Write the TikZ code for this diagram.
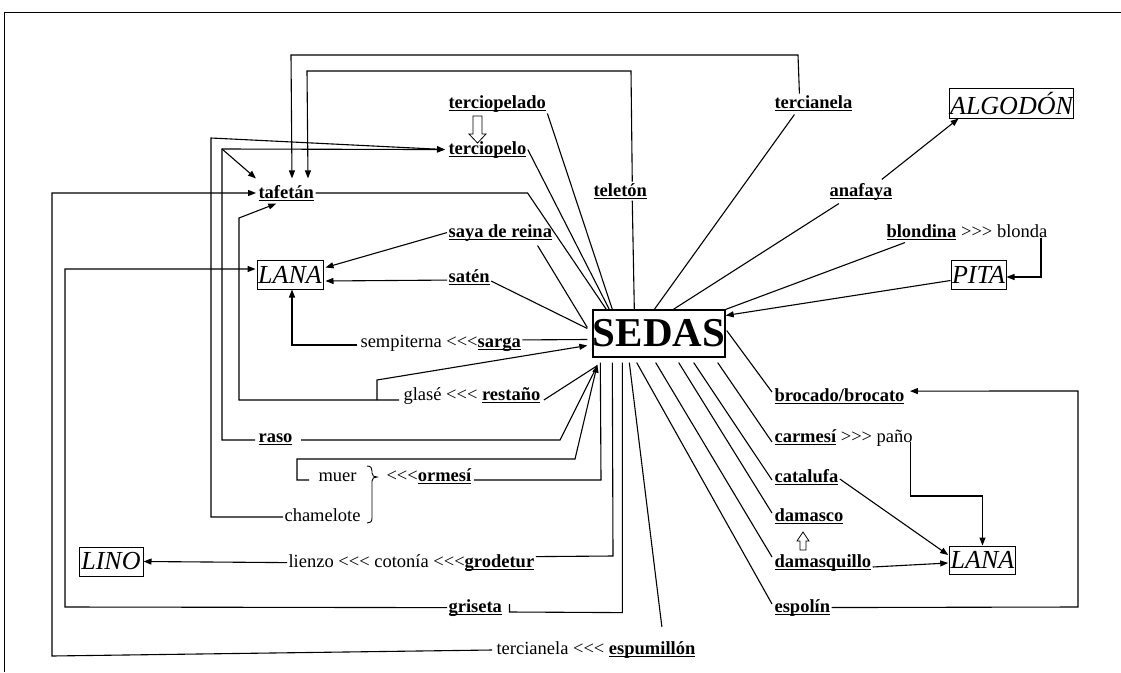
\documentclass[tikz,border=0pt]{standalone}
\usepackage{fontspec}
\setmainfont{Liberation Serif}[Ligatures=TeXOff]
\usetikzlibrary{calc,arrows.meta}
\newcommand\ulb[1]{{\setbox0=\hbox{\bfseries #1}\rlap{\rule[-3pt]{\wd0}{1.2pt}}\box0}}
\newcommand\lt{<\kern0pt<\kern0pt<}
\newcommand\gt{>\kern0pt>\kern0pt>}
\begin{document}
\begin{tikzpicture}[x=1pt,y=-1pt,line width=1.1pt,
  lbl/.style={inner sep=1pt, anchor=base west, font=\fontsize{18.5}{20}\selectfont},
  box/.style={draw, line width=1pt, inner sep=1pt, font=\fontsize{26}{28}\selectfont\itshape},
  arr/.style={-{Triangle[length=8pt,width=6pt]}},
  hollow/.style={line width=0.8pt}]
\useasboundingbox (0,0) rectangle (1121,672);
\draw[line width=1pt] (4,672) -- (4,12) -- (1121,12);

\node[draw, line width=1.2pt, inner sep=0pt, minimum width=132pt, minimum height=47pt,
  font=\fontsize{41}{44}\selectfont\bfseries] (sedas) at (659,333.5) {SEDAS};

\node[lbl] (tpado) at (447,108) {\ulb{terciopelado}};
\node[lbl] (tpelo) at (447,154) {\ulb{terciopelo}};
\node[lbl] (tafetan) at (257,198) {\ulb{tafetán}};
\node[lbl] (saya) at (447,237) {\ulb{saya de reina}};
\node[lbl] (saten) at (447,282) {\ulb{satén}};
\node[lbl] (sarga) at (359,347) {sempiterna \lt\ulb{sarga}};
\node[lbl] (restano) at (402,400) {glasé \lt{} \ulb{restaño}};
\node[lbl] (raso) at (257,442) {\ulb{raso}};
\node[lbl] (muer) at (317,481) {muer};
\node[lbl] (ormesi) at (385,481) {\lt\ulb{ormesí}};
\node[lbl] (chamelote) at (283,521) {chamelote};
\node[lbl] (grodetur) at (287,567) {lienzo \lt{} cotonía \lt\ulb{grodetur}};
\node[lbl] (griseta) at (447,612) {\ulb{griseta}};
\node[lbl] (espum) at (495,654) {tercianela \lt{} \ulb{espumillón}};
\node[lbl] (teleton) at (592,196) {\ulb{teletón}};
\node[lbl] (tercT) at (773,108) {\ulb{tercianela}};
\node[lbl] (anafaya) at (828,196) {\ulb{anafaya}};
\node[lbl] (blondina) at (885,237) {\ulb{blondina} \gt{} blonda};
\node[lbl] (brocado) at (773,401) {\ulb{brocado/brocato}};
\node[lbl] (carmesi) at (773,442) {\ulb{carmesí} \gt{} paño};
\node[lbl] (catalufa) at (773,482) {\ulb{catalufa}};
\node[lbl] (damasco) at (773,521) {\ulb{damasco}};
\node[lbl] (damasq) at (773,567) {\ulb{damasquillo}};
\node[lbl] (espolin) at (773,612) {\ulb{espolín}};

\node[box, minimum width=66pt, minimum height=29pt] (lanaL) at (290,274.5) {LANA};
\node[box, minimum width=64pt, minimum height=29pt] (lino) at (111,561.5) {LINO};
\node[box, minimum width=123pt, minimum height=30pt] (algodon) at (1011.5,103) {ALGODÓN};
\node[box, minimum width=55pt, minimum height=29pt] (pita) at (978.5,274.5) {PITA};
\node[box, minimum width=65pt, minimum height=28pt] (lanaR) at (982.5,560) {LANA};

% hollow arrows
\draw[hollow] (473,116) -- (482,116) -- (482,134) -- (486,134) -- (477.5,143) -- (469,134) -- (473,134) -- cycle;
\draw[hollow] (800,550) -- (806,550) -- (806,541) -- (809,541) -- (803,532) -- (797,541) -- (800,541) -- cycle;

% brace
\draw[line width=0.9pt] (367,466) .. controls (371,466) and (372,468) .. (372,471) -- (372,473)
  .. controls (372,476) and (374,477) .. (377,477) .. controls (374,477) and (372,478) .. (372,481)
  -- (372,518) .. controls (372,522) and (370,523) .. (367,523);

% to SEDAS from upper left
\draw (tpado.south east) -- ($(sedas.north west)+(20,0)$);
\draw (tpelo.east) -- ($(sedas.north west)+(17,0)$);
\draw (tafetan.east) -- ($(tafetan.east)+(212,0)$) -- ($(sedas.north west)+(14,0)$);
\draw ($(saya.south east)+(-16,3)$) -- ($(sedas.west)+(-5,-6)$);
\draw ($(saten.east)+(0,4)$) -- ($(sedas.west)+(-5,-5)$);
\draw ($(sarga.east)+(0,-3)$) -- ($(sedas.west)+(-5,6)$);
\draw ($(restano.base east)+(2,0)$) -- ($(sedas.south west)+(5,8)$);
\draw ($(raso.base east)+(7,-2)$) -- (560,440) -- ($(sedas.south west)+(4,10)$);
\draw[arr] ($(muer.base west)+(-8,-1)$) -- (297,480) -- (297,459) -- (575,459) -- ($(sedas.south west)+(5,7)$);
\draw ($(ormesi.base east)+(1,-1)$) -- (601,480) -- ($(sedas.south west)+(8,5)$);
\draw ($(grodetur.east)+(0,-6)$) -- (613,556) -- ($(sedas.south west)+(20,5)$);
\draw ($(griseta.base east)+(6,-8)$) -- ($(griseta.base east)+(6,0)$) -- ($(sedas.south west)+(30,255)$) -- ($(sedas.south west)+(30,5)$);
\draw ($(espum.base east)+(-35,-27)$) -- ($(sedas.south west)+(37,5)$);

% to LANA (left)
\draw[arr] (saya.west) -- ($(lanaL.east)+(2,-7)$);
\draw[arr] ($(saten.west)+(0,3)$) -- ($(lanaL.east)+(2,6.5)$);
\draw[arr] ($(sarga.base west)+(-2,-2)$) -| ($(lanaL.south)+(2,0)$);
\draw[arr] (griseta.west) -- (65,607) -- (65,269) -- ($(lanaL.west)+(-1,-5.5)$);

% glasé
\draw[arr] ($(restano.base west)+(-3,0)$) -- (239,400) -- (239,218) -- ($(tafetan.south)+(-10,1)$);
\draw[arr] (377,400) -- (377,380) -- ($(sedas.west)+(-5,12)$);

% raso, chamelote
\draw[arr] ($(raso.base west)+(-2,-2)$) -- (222,440) -- (222,149) -- ($(tpelo.west)+(-2,0)$);
\draw[arr] (222,149) -- ($(tafetan.north west)+(-1,-5)$);
\draw[arr] ($(chamelote.base west)+(0,-4)$) -- (211,517) -- (211,138) -- ($(tpelo.west)+(-2,0)$);

% LINO
\draw[arr] (grodetur.west) -- (lino.east);

% espumillon / tercianela to tafetan
\draw[arr] ($(espum.base west)+(-3,-4)$) -- (52,656) -- (52,193) -- ($(tafetan.west)+(-1,0)$);

% top
\draw[arr] ($(teleton.north)+(12,0)$) -- (631,71) -- (307,71) -- ($(tafetan.north west)+(51,-5)$);
\draw ($(teleton.south)+(12,0)$) -- ($(sedas.north west)+(42,0)$);
\draw[arr] ($(tercT.north)+(-14,0)$) -- (798,55) -- (291,55) -- ($(tafetan.north west)+(35,-5)$);
\draw ($(tercT.south)+(-19,2)$) -- ($(sedas.north west)+(62,0)$);
\draw ($(anafaya.south)+(-22,2)$) -- ($(sedas.north west)+(81,0)$);
\draw[arr] ($(anafaya.north east)+(-12,-2)$) -- ($(algodon.south west)+(10,0)$);

% right
\draw ($(blondina.south west)+(20,1)$) -- (sedas.north east);
\draw[arr] ($(blondina.base east)+(-8,1)$) |- ($(pita.east)+(0,2.5)$);
\draw[arr] ($(pita.west)+(0,6)$) -- ($(sedas.east)+(0,-18)$);
\draw ($(sedas.east)+(1,-3)$) -- ($(brocado.west)+(-1,-4)$);
\draw[arr] (espolin.east) -- (1078,607) -- (1078,391) -- ($(brocado.east)+(4,-5)$);
\draw ($(sedas.south east)+(-8,5)$) -- ($(carmesi.base west)+(-1,0)$);
\draw ($(sedas.south east)+(-32,5)$) -- ($(catalufa.base west)+(-1,-2)$);
\draw ($(sedas.south east)+(-47,5)$) -- ($(damasco.base west)+(-1,-8)$);
\draw ($(sedas.south east)+(-70,5)$) -- ($(damasq.base west)+(-1,-10)$);
\draw ($(sedas.south east)+(-89,5)$) -- ($(espolin.base west)+(-1,-8)$);
\draw[arr] ($(carmesi.base east)+(-4,0)$) -- ($(carmesi.base east)+(-4,54)$) -| (lanaR.north);
\draw[arr] ($(catalufa.east)+(0,2)$) -- ($(lanaR.west)+(-1,-5)$);
\draw[arr] (damasq.base east) -- ($(lanaR.west)+(-1,3)$);
\end{tikzpicture}
\end{document}
